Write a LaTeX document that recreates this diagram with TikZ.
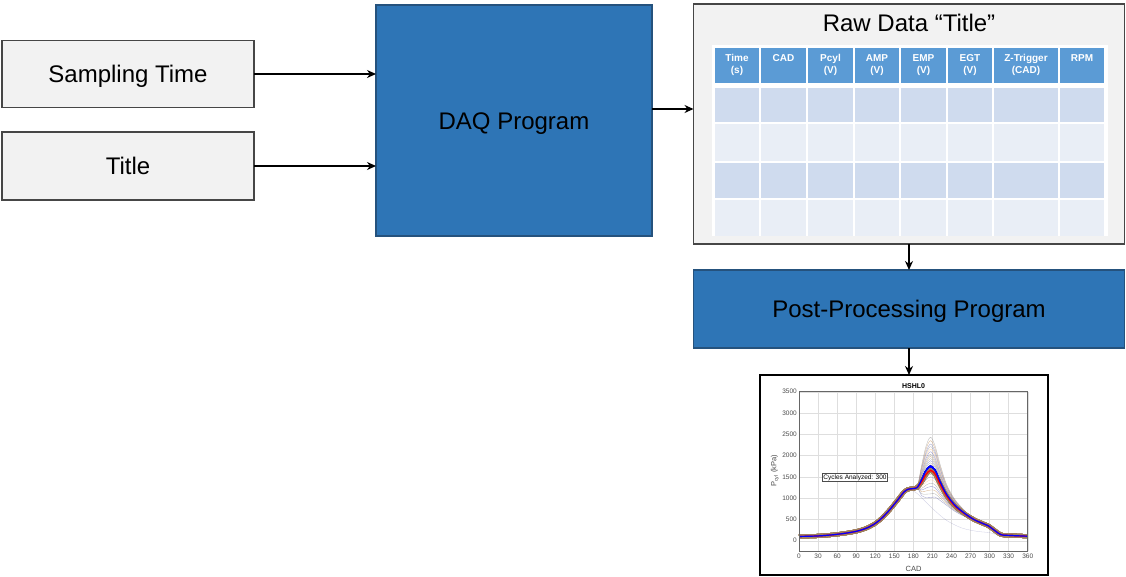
\documentclass[tikz,border=0pt]{standalone}
\usepackage{fontspec}
\setmainfont{Liberation Sans}
\usetikzlibrary{arrows.meta}
\definecolor{daqblue}{RGB}{46,117,182}
\definecolor{boxgray}{RGB}{242,242,242}
\definecolor{hdrblue}{RGB}{91,155,213}
\definecolor{rowA}{RGB}{207,219,238}
\definecolor{rowB}{RGB}{233,238,246}
\definecolor{edgegray}{RGB}{70,70,70}
\definecolor{edgeblue}{RGB}{37,82,125}
\definecolor{gridgray}{RGB}{222,222,222}
\newcommand{\pcurve}[2]{\draw[#1] plot[smooth, tension=0.55] coordinates {(0,100) (30,112) (60,150) (90,220) (110,320) (125,460) (140,680) (155,950) (165,1140) (172,1210) (180,1225) (186,1250) (193,{1380+0.5*(#2)}) (200,{1560+0.85*(#2)}) (207,{1650+(#2)}) (214,{1570+0.85*(#2)}) (222,{1330+0.6*(#2)}) (232,{1060+0.35*(#2)}) (245,{820+0.2*(#2)}) (260,{640+0.1*(#2)}) (275,500) (290,400) (298,350) (308,240) (318,140) (330,125) (345,115) (360,105)};}

\begin{document}
\begin{tikzpicture}[x=1pt, y=-1pt,
  inbox/.style={rectangle, draw=edgegray, fill=boxgray, line width=1.2pt, outer sep=0pt, text height=17.5pt, text depth=0pt, font=\fontsize{24}{28}\selectfont},
  prog/.style={rectangle, draw=edgeblue, fill=daqblue, line width=1.2pt, outer sep=0pt, text height=17.5pt, text depth=0pt, font=\fontsize{24}{28}\selectfont},
  flow/.style={-{Stealth[length=9pt, width=8pt]}, line width=2pt},
  hdr/.style={anchor=north, text=white, align=center, inner sep=0pt, font=\fontsize{10}{12.5}\selectfont\bfseries},
  ticklbl/.style={text=black!70, inner sep=2pt, font=\fontsize{6.5}{7}\selectfont}]

\useasboundingbox (0,0) rectangle (1126,577);

\node[inbox, minimum width=252pt, minimum height=67pt] (S) at (128,74) {Sampling Time};
\node[inbox, minimum width=252pt, minimum height=68pt] (T) at (128,166) {Title};
\node[prog, minimum width=276pt, minimum height=231pt] (DAQ) at (514,120.5) {DAQ Program};
\node[inbox, minimum width=431pt, minimum height=240pt] (raw) at (909,124) {};
\node[font=\fontsize{24}{28}\selectfont, text height=17.5pt, text depth=0pt] (RT) at (909,23) {Raw Data “Title”};
\node[prog, minimum width=431pt, minimum height=78pt] (PP) at (909,309) {Post-Processing Program};
\node[draw, line width=1.2pt, fill=white, minimum width=288pt, minimum height=200pt, outer sep=0pt] (PL) at (904,475) {};

% raw data table
\fill[white] (712,45) rectangle (1108,236);
\foreach \xa/\xb in {714/760, 760/807, 807/854, 854/900, 900/947, 947/993, 993/1059, 1059/1105} {
	\fill[hdrblue] (\xa+1,48) rectangle (\xb-1,83);
	\foreach \ya/\yb/\rc in {87/123/rowA, 123/162/rowB, 162/199/rowA, 199/237/rowB}
		\fill[\rc] (\xa+1,\ya+1) rectangle (\xb-1,\yb-1);
}
\foreach \xa/\xb/\txt in {714/760/{Time\\(s)}, 760/807/{CAD}, 807/854/{Pcyl\\(V)}, 854/900/{AMP\\(V)}, 900/947/{EMP\\(V)}, 947/993/{EGT\\(V)}, 993/1059/{Z-Trigger\\(CAD)}, 1059/1105/{RPM}}
	\node[hdr] (H\xa) at ({(\xa+\xb)/2},54) {\txt};

\draw[flow] (S) -- (S -| DAQ.west);
\draw[flow] (T) -- (T -| DAQ.west);
\coordinate (d1) at ([yshift=11.5pt]DAQ.east);
\draw[flow] (d1) -- (d1 -| raw.west);
\draw[flow] (raw) -- (PP);
\draw[flow] (PP) -- (PP |- PL.north);

% pressure trace plot
\begin{scope}[shift={(799,540.7)}, xscale=0.6353, yscale=-0.04257]
\foreach \x in {0,30,...,360} {
	\draw[gridgray, line width=0.4pt] (\x,-250) -- (\x,3500);
	\node[ticklbl, anchor=north] (X\x) at (\x,-250) {\x};
}
\foreach \y in {0,500,...,3500} {
	\draw[gridgray, line width=0.4pt] (0,\y) -- (360,\y);
	\node[ticklbl, anchor=east] (Y\y) at (0,\y) {\y};
}
\draw[blue!30!gray, line width=0.3pt, opacity=0.3] plot[smooth] coordinates {(165,1140) (175,1190) (185,1120) (197,950) (212,730) (232,480) (256,300) (280,220) (300,190) (312,140) (330,125)};
\foreach \d/\c in {780/gray, 700/orange!50!gray, 620/gray!70!blue, 560/gray, 500/orange!60, 440/blue!40!gray, 380/gray, 330/orange!40!gray, 280/gray, 230/blue!30!gray, 180/gray, 130/orange!50!gray, 80/gray, 30/blue!40!gray, -30/orange!60, -90/gray, -150/blue!30!gray, -220/orange!50, -300/gray, -380/blue!40!gray, -460/orange!50!gray, -550/gray, -640/blue!30!gray}
	\pcurve{\c, line width=0.35pt, opacity=0.55}{\d}
\pcurve{brown!55!gray, line width=4pt, opacity=0.55}{0}
\pcurve{red, line width=1.2pt}{0}
\pcurve{blue, line width=1.2pt}{100}
\draw[black!60, line width=0.5pt] (0,-250) rectangle (360,3500);
\end{scope}

\node[font=\fontsize{7}{8}\selectfont\bfseries] (HT) at (913.5,386) {HSHL0};
\node[rotate=90, text=black!70, font=\fontsize{7.5}{9}\selectfont] (YL) at (775,471) {P\textsubscript{cyl} (kPa)};
\node[text=black!70, font=\fontsize{7.5}{9}\selectfont] (XL) at (913.5,569) {CAD};
\node[draw=black!70, fill=white, inner sep=1pt, font=\fontsize{6.5}{7}\selectfont] (CY) at (855,477.5) {Cycles Analyzed: 300};
\end{tikzpicture}
\end{document}
